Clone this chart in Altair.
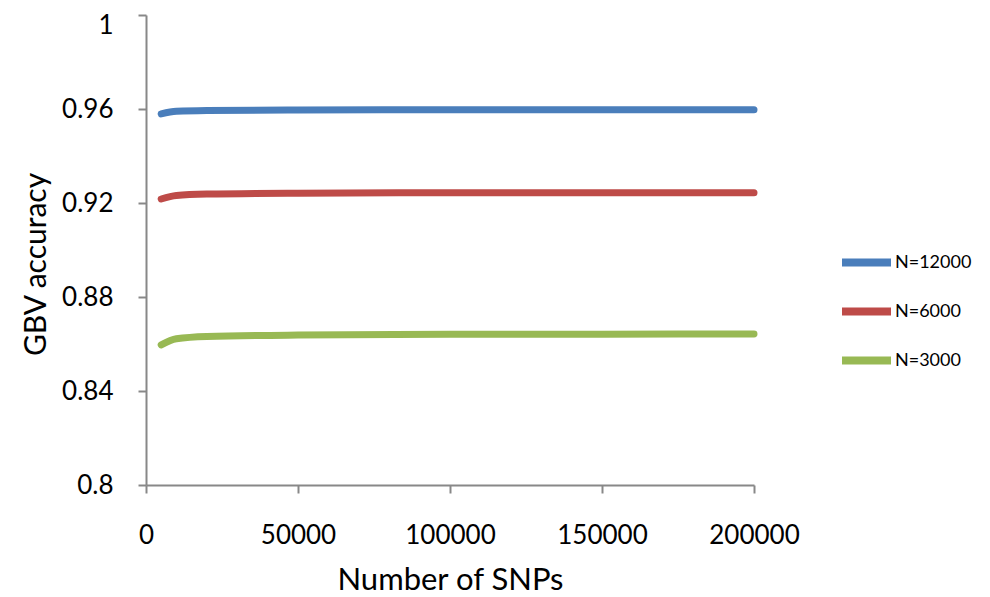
import altair as alt
import pandas as pd

snps = [5000, 10000, 20000, 50000, 100000, 150000, 200000]
acc_12000 = [0.9579, 0.9590, 0.9594, 0.9596, 0.9597, 0.9597, 0.9597]
acc_6000 = [0.9217, 0.9232, 0.9238, 0.9242, 0.9244, 0.9244, 0.9244]
acc_3000 = [0.8596, 0.8622, 0.8632, 0.8638, 0.8641, 0.8642, 0.8643]
series = ["N=12000", "N=6000", "N=3000"]
colors = ["#4A7EBB", "#BE4B48", "#98B954"]
x_ticks = [0, 50000, 100000, 150000, 200000]
y_ticks = [0.8, 0.84, 0.88, 0.92, 0.96, 1.0]

rows = []
for name, vals in zip(series, [acc_12000, acc_6000, acc_3000]):
    for s, v in zip(snps, vals):
        rows.append({"snps": s, "acc": v, "series": name})
df = pd.DataFrame(rows)

FONT = "Lato"

chart = alt.Chart(df).mark_line(
    strokeWidth=7, strokeCap="round", interpolate="monotone"
).encode(
    x=alt.X("snps:Q",
            scale=alt.Scale(domain=[0, 200000], nice=False, zero=False),
            axis=alt.Axis(values=x_ticks, format="d", title="Number of SNPs",
                          grid=False, domainColor="#888888", domainWidth=2,
                          tickColor="#888888", tickWidth=2, tickSize=8,
                          labelFont=FONT, labelFontSize=26, labelColor="#000000",
                          labelPadding=29, labelFlush=False,
                          titleFont=FONT, titleFontSize=31, titleFontWeight="normal",
                          titleColor="#000000", titleBaseline="alphabetic",
                          titleX=304, titleY=104, titleAnchor="middle")),
    y=alt.Y("acc:Q",
            scale=alt.Scale(domain=[0.8, 1.0], nice=False, zero=False),
            axis=alt.Axis(values=y_ticks, format=".2~f", title="GBV accuracy",
                          grid=False, domainColor="#888888", domainWidth=2,
                          tickColor="#888888", tickWidth=2, tickSize=8,
                          labelFont=FONT, labelFontSize=26, labelColor="#000000",
                          labelPadding=25, labelFlush=False,
                          labelOffset={"condition": {"test": "datum.value == 1", "value": 10}, "value": 0},
                          titleFont=FONT, titleFontSize=30, titleFontWeight="normal",
                          titleColor="#000000", titleBaseline="alphabetic",
                          titleAngle=270, titleX=-101, titleY=249,
                          titleAlign="center")),
    color=alt.Color("series:N",
                    scale=alt.Scale(domain=series, range=colors),
                    sort=series,
                    legend=alt.Legend(title=None, orient="none",
                                      legendX=692, legendY=219,
                                      symbolType="stroke", symbolSize=2401,
                                      symbolStrokeWidth=8, padding=0,
                                      rowPadding=4, labelOffset=0,
                                      labelFont=FONT, labelFontSize=18,
                                      labelColor="#000000")),
).properties(
    width=608, height=470,
    autosize=alt.AutoSizeParams(type="none"),
    padding={"left": 138, "top": 7, "right": 225, "bottom": 110},
).configure_view(stroke=None)

chart.save("out.html", embed_options={"renderer": "svg", "actions": False})
